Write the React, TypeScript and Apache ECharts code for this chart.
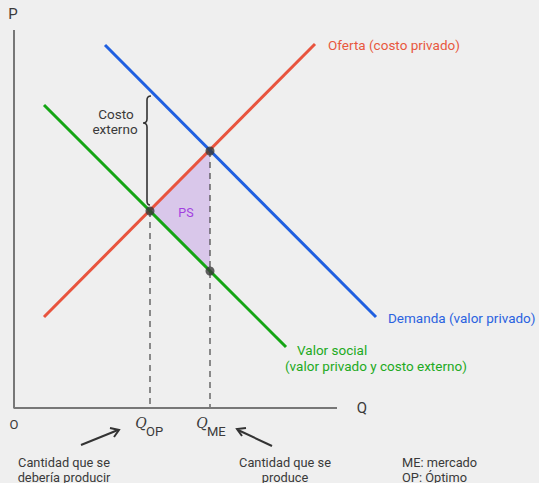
import React, { useEffect, useRef } from "react";
import * as echarts from "echarts";

// Data in chart units (1 unit = 10 px)
const axisPath: [number, number][] = [[0, 37.8], [0, 0], [32.3, 0]];
const supply: [number, number][] = [[3.0, 9.1], [30.1, 36.4]];
const demand: [number, number][] = [[9.1, 36.3], [36.2, 9.1]];
const social: [number, number][] = [[3.0, 30.3], [27.2, 6.1]];
const qOP = 13.6;
const qME = 19.6;
const pOP = 19.7;
const pME = 25.7;
const pSocialME = 13.7;
const dashOP: [number, number][] = [[qOP, pOP], [qOP, 0]];
const dashME: [number, number][] = [[qME, pME], [qME, 0]];
const points: [number, number][] = [[qOP, pOP], [qME, pME], [qME, pSocialME]];
const triangle: [number, number][] = [[qOP, pOP], [qME, pME], [qME, pSocialME]];

const FONT = "Roboto";
const TXT = "#3a3a3a";

const braceD =
  "M151,96 Q147,96 147,100 L147,119 Q147,123 143,123 Q147,123 147,127 L147,201 Q147,205 150,205";

export default function App() {
  const ref = useRef<HTMLDivElement>(null);
  useEffect(() => {
    if (!ref.current) return;
    echarts.graphic.registerShape("brace", echarts.graphic.extendPath(braceD, {}) as any);
    const chart = echarts.init(ref.current, null, { renderer: "svg" });
    const lineSeries = (data: [number, number][], color: string, width: number, type: any = "solid", z = 3) => ({
      type: "line",
      data,
      showSymbol: false,
      symbol: "none",
      silent: true,
      z,
      lineStyle: { color, width, type },
    });
    const txt = (x: number, y: number, text: string, size: number, fill = TXT, align = "center", family = FONT, style = "") => ({
      type: "text",
      x,
      y,
      z: 20,
      style: { text, font: `${style}${size}px ${family}`, fill, align, verticalAlign: "middle" },
    });
    chart.setOption({
      animation: false,
      backgroundColor: "#efefef",
      grid: { left: 14, top: 0, width: 525, height: 408 },
      xAxis: { type: "value", min: 0, max: 52.5, show: false },
      yAxis: { type: "value", min: 0, max: 40.8, show: false },
      series: [
        {
          type: "custom",
          z: 1,
          silent: true,
          renderItem: (_p: any, api: any) => ({
            type: "polygon",
            shape: { points: triangle.map((t) => api.coord(t)) },
            style: { fill: "#d9c7ea" },
          }),
          data: [0],
        },
        lineSeries(axisPath, "#777777", 2),
        lineSeries(dashOP, "#444444", 1.2, [6, 5], 2),
        lineSeries(dashME, "#444444", 1.2, [6, 5], 2),
        lineSeries(supply, "#e8543e", 3),
        lineSeries(demand, "#1f5fe0", 3),
        lineSeries(social, "#14a514", 3),
        {
          type: "scatter",
          data: points,
          symbolSize: 9,
          itemStyle: { color: "#3a3a3a" },
          z: 5,
          silent: true,
        },
      ],
      graphic: [
        txt(13, 14, "P", 15),
        txt(362, 408, "Q", 15),
        txt(14, 424, "O", 13),
        txt(328, 45, "Oferta (costo privado)", 13.5, "#e8583e", "left"),
        txt(388, 318, "Demanda (valor privado)", 13.5, "#2a62e0", "left"),
        txt(297, 350, "Valor social", 13.5, "#22aa22", "left"),
        txt(285, 366, "(valor privado y costo externo)", 13.5, "#22aa22", "left"),
        txt(116, 114, "Costo", 13.5),
        txt(115, 129, "externo", 13.5),
        txt(186, 212, "PS", 12.5, "#a23fe0"),
        { type: "brace", x: 0, y: 0, z: 20, style: { fill: "none", stroke: "#333", lineWidth: 1.6 } },
        txt(141, 423, "Q", 14, TXT, "center", '"DejaVu Serif"', "italic "),
        txt(146, 431, "OP", 13, TXT, "left"),
        txt(202, 423, "Q", 14, TXT, "center", '"DejaVu Serif"', "italic "),
        txt(207, 431, "ME", 13, TXT, "left"),
        { type: "line", z: 20, shape: { x1: 81, y1: 445, x2: 118, y2: 430 }, style: { stroke: "#333", lineWidth: 2 } },
        { type: "polyline", z: 20, shape: { points: [[110, 428], [119, 430], [114, 437]] }, style: { stroke: "#333", lineWidth: 2, fill: "none" } },
        { type: "line", z: 20, shape: { x1: 272, y1: 446, x2: 238, y2: 430 }, style: { stroke: "#333", lineWidth: 2 } },
        { type: "polyline", z: 20, shape: { points: [[246, 428], [237, 429], [242, 436]] }, style: { stroke: "#333", lineWidth: 2, fill: "none" } },
        txt(64, 462, "Cantidad que se", 12.8),
        txt(64, 477, "debería producir", 12.8),
        txt(285, 462, "Cantidad que se", 12.8),
        txt(285, 477, "produce", 12.8),
        txt(402, 462, "ME: mercado", 12.8, TXT, "left"),
        txt(402, 477, "OP: Óptimo", 12.8, TXT, "left"),
      ],
    });
    return () => chart.dispose();
  }, []);
  return <div ref={ref} style={{ width: 539, height: 483, position: "fixed", left: 0, top: 0 }} />;
}
